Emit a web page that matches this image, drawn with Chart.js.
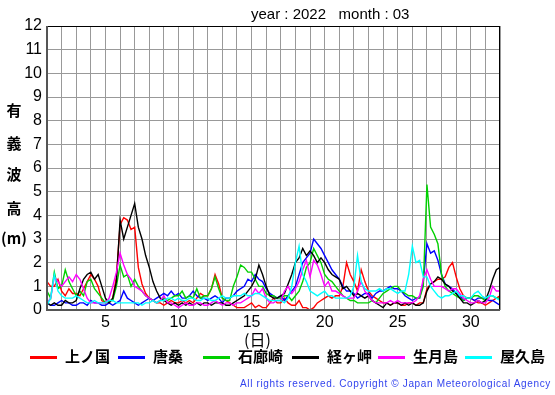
<!DOCTYPE html>
<html>
<head>
<meta charset="utf-8">
<script src="https://cdn.jsdelivr.net/npm/chart.js@4/dist/chart.umd.min.js"></script>
<style>
  body { margin: 0; background: #fff; }
  #wrap { position: relative; width: 555px; height: 395px; overflow: hidden; font-family: "Liberation Sans", Arial, sans-serif; }
  #wrap canvas { position: absolute; left: 0; top: 0; }
  .t { position: absolute; white-space: nowrap; color: #000; }
  .jp { font-family: "Noto Sans CJK JP", sans-serif; }
  .ylab { position: absolute; left: 4px; width: 20px; text-align: center; font-size: 15px; font-weight: bold; line-height: 15px; }
  .leg { position: absolute; top: 347px; font-size: 15px; line-height: 18px; font-weight: bold; }
  .sw { position: absolute; top: 356px; width: 27px; height: 3px; }
</style>
</head>
<body>
<div id="wrap">
  <canvas id="waveChart" width="555" height="395"></canvas>
  <div class="t" style="left:251px;top:5px;font-size:15px;">year : 2022&nbsp;&nbsp;&nbsp;month : 03</div>
  <div class="ylab jp" style="top:102px;">有</div>
  <div class="ylab jp" style="top:135px;">義</div>
  <div class="ylab jp" style="top:166px;">波</div>
  <div class="ylab jp" style="top:200px;">高</div>
  <div class="ylab jp" style="top:230px;left:0;width:28px;">(m)</div>
  <div class="t jp" style="left:244px;top:327px;font-size:16px;">(日)</div>
  <div id="legend"></div>
  <div class="t" style="left:240px;top:378px;font-size:10px;letter-spacing:0.65px;color:#3344ee;">All rights reserved. Copyright © Japan Meteorological Agency</div>
</div>
<script>
// six-hourly readings from day 1 00h, step 0.25 day
const startDay = 1;
const step = 0.25;
const stations = ["上ノ国", "唐桑", "石廊崎", "経ヶ岬", "生月島", "屋久島"];
const colors = ["#ff0000", "#0000ff", "#00d000", "#000000", "#ff00ff", "#00ffff"];

const kaminokuni = [
  1.2, 1.0, 1.0, 1.3,  0.8, 0.6, 0.9, 0.7,  0.7, 0.6, 0.9, 1.2,  1.5, 1.3, 1.0, 0.4,
  0.3, 0.3, 0.5, 1.4,  3.6, 3.9, 3.8, 3.4,  3.5, 1.8, 1.1, 0.7,  0.5, 0.4, 0.3, 0.3,
  0.2, 0.3, 0.4, 0.3,  0.3, 0.4, 0.3, 0.4,  0.3, 0.5, 0.7, 0.6,  0.6, 0.9, 1.5, 1.1,
  0.5, 0.4, 0.3, 0.2,  0.1, 0.1, 0.1, 0.2,  0.3, 0.1, 0.2, 0.1,  0.1, 0.3, 0.5, 0.3,
  0.3, 0.5, 0.3, 0.2,  0.2, 0.4, 0.1, 0.1,  0.0, 0.1, 0.3, 0.4,  0.5, 0.6, 0.5, 0.6,
  0.6, 1.0, 2.0, 1.5,  1.2, 0.8, 1.7, 1.2,  0.8, 0.6, 0.5, 0.4,  0.3, 0.3, 0.2, 0.3,
  0.3, 0.2, 0.2, 0.3,  0.3, 0.2, 0.3, 0.3,  0.9, 1.1, 1.2, 1.3,  1.3, 1.4, 1.8, 2.0,
  1.4, 0.9, 0.6, 0.5,  0.5, 0.4, 0.3, 0.3,  0.2, 0.3, 0.4, 0.5,  0.6
];
const karakuwa = [
  0.3, 0.2, 0.2, 0.3,  0.4, 0.3, 0.3, 0.2,  0.2, 0.3, 0.3, 0.2,  0.4, 0.3, 0.3, 0.2,
  0.2, 0.3, 0.2, 0.3,  0.4, 0.8, 0.5, 0.4,  0.3, 0.2, 0.3, 0.4,  0.5, 0.4, 0.5, 0.6,
  0.7, 0.6, 0.8, 0.6,  0.7, 0.5, 0.5, 0.6,  0.8, 0.6, 0.5, 0.5,  0.4, 0.5, 0.6, 0.5,
  0.3, 0.5, 0.5, 0.6,  0.8, 0.9, 1.0, 1.3,  1.2, 1.5, 1.3, 1.2,  0.9, 0.7, 0.6, 0.5,
  0.6, 0.4, 0.6, 0.8,  1.0, 1.5, 2.0, 2.2,  2.4, 3.0, 2.8, 2.6,  2.3, 2.0, 1.7, 1.5,
  1.3, 1.0, 0.8, 0.8,  0.7, 0.5, 0.6, 0.7,  0.7, 0.5, 0.7, 0.8,  0.8, 0.9, 1.0, 0.9,
  0.9, 0.8, 0.6, 0.5,  0.4, 0.5, 0.5, 1.2,  2.8, 2.4, 2.5, 2.1,  1.5, 1.1, 1.0, 0.9,
  0.7, 0.6, 0.4, 0.5,  0.5, 0.4, 0.5, 0.5,  0.5, 0.4, 0.4, 0.3,  0.2
];
const irozaki = [
  0.8, 0.5, 1.6, 0.9,  1.0, 1.7, 1.2, 0.9,  0.6, 0.8, 0.6, 1.2,  1.3, 0.9, 0.7, 0.5,
  0.3, 0.4, 0.4, 1.0,  1.9, 1.4, 1.5, 1.0,  1.3, 1.0, 0.8, 0.6,  0.5, 0.4, 0.3, 0.4,
  0.5, 0.4, 0.5, 0.6,  0.6, 0.8, 0.5, 0.6,  0.5, 0.9, 0.5, 0.6,  0.6, 0.9, 1.4, 0.9,
  0.5, 0.4, 0.4, 1.0,  1.4, 1.9, 1.8, 1.6,  1.6, 1.3, 1.0, 1.0,  0.7, 0.6, 0.6, 0.5,
  0.5, 0.6, 0.6, 0.4,  0.6, 0.8, 1.2, 1.8,  2.0, 2.6, 2.3, 2.0,  1.5, 1.3, 1.2, 1.0,
  0.8, 0.6, 0.5, 0.4,  0.4, 0.3, 0.3, 0.3,  0.3, 0.4, 0.3, 0.5,  0.7, 0.8, 0.9, 1.0,
  1.0, 0.8, 0.7, 0.6,  0.6, 0.5, 0.5, 1.0,  5.3, 3.5, 3.2, 2.8,  1.5, 1.0, 0.8, 0.7,
  0.6, 0.5, 0.4, 0.5,  0.5, 0.6, 0.6, 0.5,  0.4, 0.6, 0.6, 0.5,  0.5
];
const kyogamisaki = [
  0.3, 0.2, 0.3, 0.2,  0.2, 0.4, 0.3, 0.3,  0.4, 0.9, 1.3, 1.5,  1.6, 1.3, 1.5, 1.0,
  0.5, 0.3, 0.5, 1.2,  3.8, 3.0, 3.5, 4.0,  4.5, 3.5, 3.0, 2.3,  1.8, 1.2, 0.8, 0.5,
  0.4, 0.3, 0.2, 0.3,  0.2, 0.3, 0.2, 0.3,  0.2, 0.3, 0.2, 0.3,  0.3, 0.2, 0.3, 0.3,
  0.3, 0.2, 0.2, 0.3,  0.4, 0.5, 0.6, 0.8,  1.0, 1.3, 1.9, 1.5,  1.0, 0.6, 0.5, 0.5,
  0.6, 0.7, 1.1, 1.5,  2.0, 2.2, 2.6, 2.3,  2.5, 2.3, 2.0, 2.2,  2.0, 1.7, 1.5, 1.4,
  1.3, 0.9, 1.0, 0.8,  0.6, 0.7, 0.6, 0.5,  0.6, 0.4, 0.3, 0.2,  0.1, 0.3, 0.2, 0.3,
  0.3, 0.2, 0.3, 0.2,  0.3, 0.2, 0.2, 0.3,  0.8, 1.1, 1.2, 1.4,  1.3, 1.1, 1.0, 0.8,
  0.7, 0.5, 0.3, 0.3,  0.2, 0.3, 0.4, 0.3,  0.4, 0.8, 1.3, 1.7,  1.8
];
const ikitsukishima = [
  0.3, 0.5, 1.4, 1.2,  1.0, 1.2, 1.4, 1.2,  1.5, 1.3, 0.9, 0.5,  0.3, 0.3, 0.3, 0.3,
  0.3, 0.5, 1.0, 1.6,  2.4, 1.9, 1.5, 1.3,  1.0, 0.9, 0.8, 0.6,  0.5, 0.4, 0.3, 0.4,
  0.6, 0.3, 0.3, 0.2,  0.1, 0.2, 0.3, 0.2,  0.2, 0.3, 0.3, 0.2,  0.2, 0.3, 0.4, 0.3,
  0.2, 0.3, 0.3, 0.2,  0.3, 0.3, 0.4, 0.5,  0.6, 0.9, 0.7, 0.9,  0.5, 0.3, 0.3, 0.4,
  0.4, 0.8, 1.0, 0.7,  0.9, 1.2, 1.7, 2.1,  1.4, 2.1, 1.9, 1.5,  1.0, 1.2, 0.8, 0.8,
  0.7, 0.6, 0.5, 0.5,  0.5, 0.8, 1.2, 0.8,  0.6, 0.4, 0.3, 0.3,  0.3, 0.3, 0.4, 0.3,
  0.4, 0.3, 0.3, 0.3,  0.3, 0.4, 0.6, 1.3,  1.7, 1.3, 1.0, 1.0,  1.0, 0.9, 0.8, 0.9,
  0.9, 0.7, 0.5, 0.4,  0.3, 0.3, 0.4, 0.3,  0.3, 0.5, 1.0, 0.8,  0.8
];
const yakushima = [
  0.2, 0.5, 1.5, 0.8,  0.6, 0.5, 0.5, 0.5,  0.6, 0.5, 0.4, 0.3,  0.3, 0.4, 0.3, 0.3,
  0.3, 0.4, 0.4, 0.3,  0.3, 0.3, 0.3, 0.3,  0.3, 0.3, 0.2, 0.3,  0.3, 0.4, 0.3, 0.4,
  0.4, 0.5, 0.5, 0.4,  0.5, 0.4, 0.4, 0.5,  0.5, 0.4, 0.4, 0.5,  0.5, 0.4, 0.4, 0.5,
  0.6, 0.5, 0.5, 0.6,  0.6, 0.6, 0.7, 0.6,  0.6, 0.7, 0.7, 0.6,  0.5, 0.4, 0.4, 0.4,
  0.4, 0.3, 0.5, 1.0,  2.0, 2.7, 1.5, 1.2,  0.8, 0.7, 0.6, 0.7,  0.8, 0.6, 0.6, 0.5,
  0.5, 0.5, 0.5, 0.6,  1.0, 2.3, 1.2, 0.9,  0.8, 0.8, 0.8, 0.9,  0.8, 0.9, 0.9, 0.8,
  0.7, 0.8, 0.8, 1.5,  2.7, 2.0, 2.1, 1.4,  1.4, 1.0, 0.8, 0.6,  0.5, 0.6, 0.6, 0.7,
  0.8, 0.6, 0.6, 0.5,  0.5, 0.7, 0.8, 0.6,  0.5, 0.6, 0.6, 0.5,  0.4
];
const seriesValues = [kaminokuni, karakuwa, irozaki, kyogamisaki, ikitsukishima, yakushima];
const xTickLabels = [5, 10, 15, 20, 25, 30];

// legend (html, real text)
const legendX = [30, 118, 203, 292, 378, 465];
const legendEl = document.getElementById("legend");
stations.forEach((name, i) => {
  const sw = document.createElement("div");
  sw.className = "sw";
  sw.style.left = legendX[i] + "px";
  sw.style.background = colors[i];
  legendEl.appendChild(sw);
  const lb = document.createElement("div");
  lb.className = "leg jp";
  lb.style.left = (legendX[i] + 35) + "px";
  lb.textContent = name;
  legendEl.appendChild(lb);
});

const framePlugin = {
  id: "frame",
  afterDraw: (chart) => {
    const { ctx, chartArea: a } = chart;
    ctx.save();
    ctx.strokeStyle = "#000";
    ctx.lineWidth = 1;
    ctx.strokeRect(a.left + 0.5, a.top + 0.5, a.right - a.left - 1, a.bottom - a.top);
    ctx.strokeStyle = "#555";
    ctx.lineWidth = 2;
    ctx.beginPath();
    ctx.moveTo(a.left, a.top);
    ctx.lineTo(a.left, a.bottom);
    ctx.lineTo(a.right, a.bottom);
    ctx.stroke();
    ctx.restore();
  },
};

const drawOrder = [5, 4, 3, 2, 1, 0];

new Chart(document.getElementById("waveChart"), {
  type: "line",
  data: {
    datasets: stations.map((name, i) => ({
      label: name,
      data: seriesValues[i].map((v, k) => ({ x: startDay + k * step, y: v })),
      borderColor: colors[i],
      borderWidth: 1.4,
      pointRadius: 0,
      tension: 0,
      fill: false,
      order: drawOrder[i],
    })),
  },
  options: {
    responsive: false,
    animation: false,
    devicePixelRatio: 1,
    layout: { padding: { left: 0, right: 55, top: 26, bottom: 0 } },
    plugins: { legend: { display: false }, tooltip: { enabled: false } },
    scales: {
      x: {
        type: "linear",
        min: 1,
        max: 32,
        afterFit: (s) => { s.height = 85; },
        border: { display: false },
        grid: { color: "#999", lineWidth: 1, drawTicks: false },
        ticks: {
          stepSize: 1,
          autoSkip: false,
          maxRotation: 0,
          padding: 3,
          color: "#000",
          font: { size: 16, family: "'Liberation Sans', Arial, sans-serif" },
          callback: (v) => (xTickLabels.includes(v) ? String(v) : ""),
        },
      },
      y: {
        min: 0,
        max: 12,
        afterFit: (s) => { s.width = 47; },
        border: { display: false },
        grid: { color: "#999", lineWidth: 1, drawTicks: false },
        ticks: {
          stepSize: 1,
          padding: 5,
          color: "#000",
          font: { size: 16, family: "'Liberation Sans', Arial, sans-serif" },
        },
      },
    },
  },
  plugins: [framePlugin],
});
</script>
</body>
</html>
